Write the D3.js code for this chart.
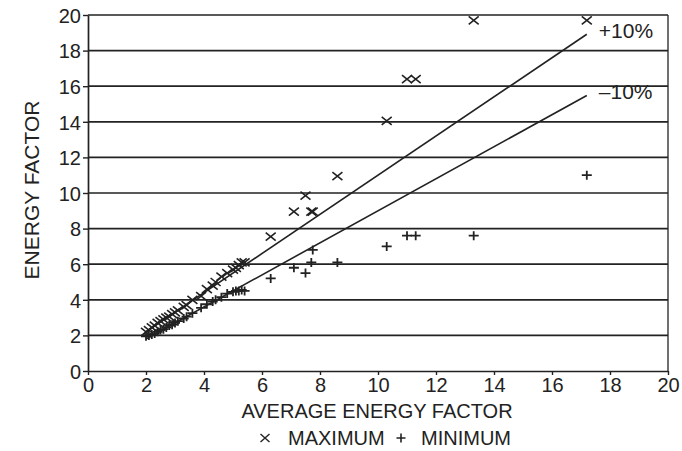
<!DOCTYPE html>
<html>
<head>
<meta charset="utf-8">
<script src="https://cdn.jsdelivr.net/npm/d3@7"></script>
<style>
  body { margin: 0; background: #fff; }
  svg { display: block; font-family: "Liberation Sans", Arial, sans-serif; }
</style>
</head>
<body>
<svg id="chart" width="682" height="451"></svg>
<script>
// data: average energy factor with its max and min
const avgEF = [2.0, 2.1, 2.2, 2.3, 2.4, 2.5, 2.6, 2.7, 2.8, 2.9, 3.0, 3.1, 3.3, 3.4, 3.6, 3.9, 4.1, 4.3, 4.4, 4.6, 4.8, 5.0, 5.1, 5.2, 5.3, 5.4,
               6.3, 7.1, 7.5, 7.7, 7.75, 8.6, 10.3, 11.0, 11.3, 13.3, 17.2];
const maxEF = [2.2, 2.3, 2.45, 2.55, 2.7, 2.8, 2.9, 3.0, 3.05, 3.2, 3.3, 3.4, 3.6, 3.7, 4.0, 4.2, 4.6, 4.8, 5.0, 5.3, 5.5, 5.7, 5.8, 5.95, 6.1, 6.1,
               7.55, 8.95, 9.85, 8.95, 8.95, 10.95, 14.05, 16.4, 16.4, 19.7, 19.7];
const minEF = [1.95, 2.0, 2.05, 2.1, 2.2, 2.3, 2.35, 2.45, 2.55, 2.6, 2.7, 2.8, 2.95, 3.05, 3.25, 3.55, 3.75, 3.9, 4.0, 4.15, 4.35, 4.45, 4.5, 4.5, 4.55, 4.5,
               5.2, 5.8, 5.5, 6.1, 6.8, 6.1, 7.0, 7.6, 7.6, 7.6, 11.0];
const bandLines = [{ label: "+10%", factor: 1.1 }, { label: "\u201310%", factor: 0.9 }];
const bandRange = [2, 17.2];
const xTicks = [0, 2, 4, 6, 8, 10, 12, 14, 16, 18, 20];
const yTicks = [0, 2, 4, 6, 8, 10, 12, 14, 16, 18, 20];

const ink = "#222";
const fs = "20px";
const svg = d3.select("#chart");
const x = d3.scaleLinear().domain([0, 20]).range([88, 668]);
const y = d3.scaleLinear().domain([0, 20]).range([371, 15]);

// horizontal grid + frame
svg.append("g").selectAll("line").data(yTicks.slice(1)).join("line")
  .attr("x1", x(0)).attr("x2", x(20)).attr("y1", d => y(d)).attr("y2", d => y(d))
  .attr("stroke", ink).attr("stroke-width", 1.7);
svg.append("line").attr("x1", x(20)).attr("x2", x(20)).attr("y1", y(0)).attr("y2", y(20))
  .attr("stroke", ink).attr("stroke-width", 1.3);

// axes
const xAxis = svg.append("g").attr("transform", `translate(0,${y(0)})`)
  .call(d3.axisBottom(x).tickValues(xTicks).tickSize(4).tickSizeOuter(0).tickPadding(3));
const yAxis = svg.append("g").attr("transform", `translate(${x(0)},0)`)
  .call(d3.axisLeft(y).tickValues(yTicks).tickSize(5).tickSizeOuter(0).tickPadding(2));
[xAxis, yAxis].forEach(g => {
  g.select(".domain").attr("stroke", ink).attr("stroke-width", 1.7);
  g.selectAll(".tick line").attr("stroke", ink).attr("stroke-width", 1.4);
  g.selectAll(".tick text").attr("fill", ink).style("font-size", fs)
    .style("font-family", "'Liberation Sans', Arial, sans-serif");
});
xAxis.selectAll(".tick text").attr("dy", "0.72em");
yAxis.selectAll(".tick text").attr("dy", "0.36em");

// +/-10% lines
svg.append("g").selectAll("line").data(bandLines).join("line")
  .attr("x1", x(bandRange[0])).attr("y1", d => y(bandRange[0] * d.factor))
  .attr("x2", x(bandRange[1])).attr("y2", d => y(bandRange[1] * d.factor))
  .attr("stroke", ink).attr("stroke-width", 1.6);
svg.append("g").selectAll("text").data(bandLines).join("text")
  .attr("x", x(bandRange[1]) + 12).attr("y", d => y(bandRange[1] * d.factor) + 4)
  .attr("fill", ink).style("font-size", "21px").text(d => d.label);

// markers
const crossPath = "M-5,-4L5,4M-5,4L5,-4";
const plusPath = "M-5,0L5,0M0,-4.5L0,4.5";
const pts = avgEF.map((a, i) => ({ a, max: maxEF[i], min: minEF[i] }));
svg.append("g").selectAll("path").data(pts).join("path")
  .attr("transform", d => `translate(${x(d.a)},${y(d.max)})`)
  .attr("d", crossPath).attr("stroke", ink).attr("stroke-width", 1.6).attr("fill", "none");
svg.append("g").selectAll("path").data(pts).join("path")
  .attr("transform", d => `translate(${x(d.a)},${y(d.min)})`)
  .attr("d", plusPath).attr("stroke", ink).attr("stroke-width", 1.8).attr("fill", "none");

// titles
svg.append("text").attr("x", 377).attr("y", 418).attr("text-anchor", "middle")
  .attr("fill", ink).style("font-size", fs).text("AVERAGE ENERGY FACTOR");
svg.append("text").attr("transform", `translate(39,${(y(0) + y(20)) / 2 - 3}) rotate(-90)`)
  .attr("text-anchor", "middle").attr("fill", ink).style("font-size", "21px").text("ENERGY FACTOR");

// legend
const legend = svg.append("g").attr("transform", "translate(0,438)");
legend.append("path").attr("transform", "translate(265,0)").attr("d", "M-4.5,-4L4.5,4M-4.5,4L4.5,-4")
  .attr("stroke", ink).attr("stroke-width", 1.4).attr("fill", "none");
legend.append("text").attr("x", 288).attr("y", 7).attr("fill", ink).style("font-size", fs).text("MAXIMUM");
legend.append("path").attr("transform", "translate(401,0)").attr("d", "M-4.5,0L4.5,0M0,-4.5L0,4.5")
  .attr("stroke", ink).attr("stroke-width", 1.6).attr("fill", "none");
legend.append("text").attr("x", 421).attr("y", 7).attr("fill", ink).style("font-size", fs).text("MINIMUM");
</script>
</body>
</html>
